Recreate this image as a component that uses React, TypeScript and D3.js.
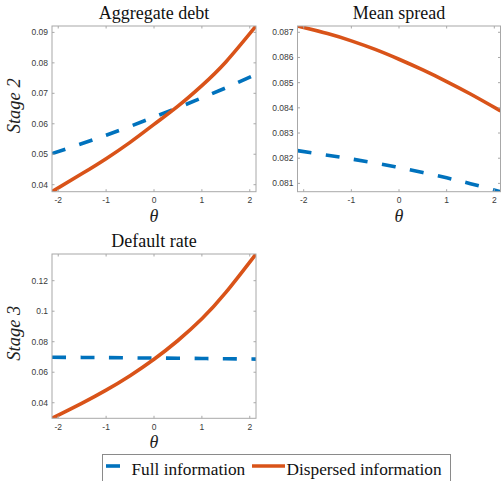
import React from 'react'
import * as d3 from 'd3'

// theta grid (x axis of every panel)
const theta = [-2.13, -1.5, -1, -0.5, 0, 0.5, 1, 1.5, 2.13]
const thetaTicks = [-2, -1, 0, 1, 2]

// Stage 2 - aggregate debt
const debtFull = [0.0502, 0.0535, 0.05625, 0.05915, 0.0622, 0.0653, 0.0685, 0.0718, 0.0762]
const debtDispersed = [0.0377, 0.04365, 0.04855, 0.0539, 0.0598, 0.0658, 0.07255, 0.0803, 0.0921]
const debtTicks = [0.04, 0.05, 0.06, 0.07, 0.08, 0.09]

// Stage 2 - mean spread
const spreadFull = [0.0823, 0.08212, 0.08197, 0.08181, 0.08163, 0.08143, 0.08122, 0.08099, 0.08067]
const spreadDispersed = [0.08725, 0.08695, 0.08666, 0.08632, 0.08593, 0.085505, 0.085045, 0.08455, 0.08388]
const spreadTicks = [0.081, 0.082, 0.083, 0.084, 0.085, 0.086, 0.087]

// Stage 3 - default rate
const defaultFull = [0.0698, 0.0697, 0.0696, 0.0694, 0.0693, 0.0692, 0.069, 0.0688, 0.0686]
const defaultDispersed = [0.0298, 0.03975, 0.04825, 0.05775, 0.0685, 0.0808, 0.095, 0.1123, 0.1375]
const defaultTicks = [0.04, 0.06, 0.08, 0.1, 0.12]

const BLUE = '#0072BD'
const ORANGE = '#D95319'
const AXIS = '#a8a8a8'
const SERIF = '"Liberation Serif", "Times New Roman", serif'
const SANS = '"Liberation Sans", Arial, sans-serif'

interface PanelProps {
  id: string
  x0: number
  x1: number
  y0: number
  y1: number
  title: string
  full: number[]
  dispersed: number[]
  yTicks: number[]
  yLabel?: string
}

const Panel = (props: PanelProps) => {
  const { id, x0, x1, y0, y1, title, full, dispersed, yTicks, yLabel } = props
  const x = d3.scaleLinear().domain(d3.extent(theta) as [number, number]).range([x0, x1])
  const y = d3
    .scaleLinear()
    .domain(d3.extent([...full, ...dispersed]) as [number, number])
    .range([y1, y0])
  const line = d3
    .line<number>()
    .x((_, i) => x(theta[i]))
    .y((d) => y(d))
    .curve(d3.curveNatural)
  const fmt = d3.format('~g')
  const tl = 2.5
  const cx = (x0 + x1) / 2

  return (
    <g>
      <defs>
        <clipPath id={id}>
          <rect x={x0} y={y0} width={x1 - x0} height={y1 - y0} />
        </clipPath>
      </defs>
      <g clipPath={`url(#${id})`}>
        <path d={line(full) || ''} fill="none" stroke={BLUE} strokeWidth={3.6} strokeDasharray="14 14.5" />
        <path d={line(dispersed) || ''} fill="none" stroke={ORANGE} strokeWidth={3.6} />
      </g>
      <rect x={x0} y={y0} width={x1 - x0} height={y1 - y0} fill="none" stroke={AXIS} strokeWidth={1} />
      {thetaTicks.map((t) => (
        <g key={'x' + t}>
          <line x1={x(t)} x2={x(t)} y1={y1} y2={y1 - tl} stroke={AXIS} />
          <line x1={x(t)} x2={x(t)} y1={y0} y2={y0 + tl} stroke={AXIS} />
          <text x={x(t)} y={y1 + 11.5} textAnchor="middle" fontFamily={SANS} fontSize={8.5} fill="#3a3a3a">
            {t}
          </text>
        </g>
      ))}
      {yTicks.map((t) => (
        <g key={'y' + t}>
          <line x1={x0} x2={x0 + tl} y1={y(t)} y2={y(t)} stroke={AXIS} />
          <line x1={x1} x2={x1 - tl} y1={y(t)} y2={y(t)} stroke={AXIS} />
          <text x={x0 - 4} y={y(t) + 3} textAnchor="end" fontFamily={SANS} fontSize={8.5} fill="#3a3a3a">
            {fmt(t)}
          </text>
        </g>
      ))}
      <text x={cx} y={y0 - 7} textAnchor="middle" fontFamily={SERIF} fontSize={18} fill="#111">
        {title}
      </text>
      <text x={cx} y={y1 + 30} textAnchor="middle" fontFamily={SERIF} fontStyle="italic" fontSize={18} fill="#222">
        θ
      </text>
      {yLabel && (
        <text
          transform={`translate(20,${(y0 + y1) / 2 - 3}) rotate(-90)`}
          textAnchor="middle"
          fontFamily={SERIF}
          fontStyle="italic"
          fontSize={18.5}
          fill="#222"
        >
          {yLabel}
        </text>
      )}
    </g>
  )
}

const App = () => {
  return (
    <svg
      width={501}
      height={481}
      style={{ position: 'absolute', left: 0, top: 0, display: 'block', background: '#fff' }}
    >
      <Panel id="c1" x0={52} x1={256} y0={26} y1={191.7} title="Aggregate debt" full={debtFull} dispersed={debtDispersed} yTicks={debtTicks} yLabel="Stage 2" />
      <Panel id="c2" x0={297.5} x1={500.5} y0={26} y1={191.7} title="Mean spread" full={spreadFull} dispersed={spreadDispersed} yTicks={spreadTicks} />
      <Panel id="c3" x0={52} x1={256} y0={254} y1={418.3} title="Default rate" full={defaultFull} dispersed={defaultDispersed} yTicks={defaultTicks} yLabel="Stage 3" />

      {/* legend */}
      <rect x={102.5} y={454.5} width={348} height={30} fill="#fff" stroke="#8a8a8a" strokeWidth={1} />
      <line x1={106} x2={134} y1={466} y2={466} stroke={BLUE} strokeWidth={3.6} strokeDasharray="14 14.5" />
      <text x={131.5} y={475} fontFamily={SERIF} fontSize={17.3} fill="#111">
        Full information
      </text>
      <line x1={252} x2={285} y1={466} y2={466} stroke={ORANGE} strokeWidth={3.6} />
      <text x={286.5} y={475} fontFamily={SERIF} fontSize={17.3} fill="#111">
        Dispersed information
      </text>
    </svg>
  )
}

export default App
